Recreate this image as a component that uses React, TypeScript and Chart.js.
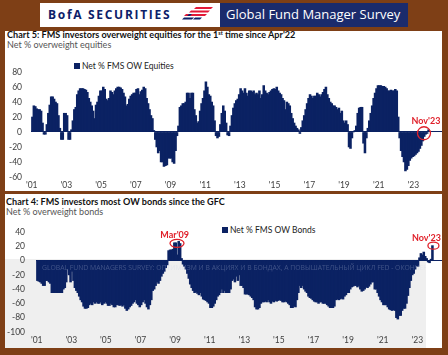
import React, { useEffect, useRef } from "react";
import { Chart, registerables } from "chart.js";

Chart.register(...registerables);

// ---------------- DATA ----------------
const FIRST_YEAR = 2001; // series start: Jan 2001, monthly, last value Nov 2023
const xTickYears = [2001, 2003, 2005, 2007, 2009, 2011, 2013, 2015, 2017, 2019, 2021, 2023];
const equitiesTicks = [-60, -40, -20, 0, 20, 40, 60, 80];
const bondsTicks = [-100, -80, -60, -40, -20, 0, 20, 40];

// Net % FMS OW Equities (monthly)
const equitiesNet = [
  20, 35, 34, 31, 30, 30, 28, 12, -3, -3, 10, 25, // 2001
  36, 47, 47, 44, 40, 38, 22, 5, -10, -10, 25, 25, // 2002
  22, -10, -10, 3, 15, 30, 33, 50, 55, 58, 58, 58, // 2003
  57, 56, 53, 45, 40, 35, 28, 18, 36, 40, 48, 55, // 2004
  55, 60, 57, 44, 42, 45, 55, 53, 50, 55, 58, 60, // 2005
  60, 59, 57, 52, 47, 35, 37, 44, 48, 50, 52, 52, // 2006
  57, 58, 50, 54, 56, 60, 58, 45, 38, 30, 22, 18, // 2007
  2, -10, -20, -28, -25, -40, -40, -46, -45, -44, -35, -35, // 2008
  -35, -40, -42, -25, -5, 8, 33, 35, 38, 38, 40, 52, // 2009
  52, 45, 52, 52, 30, 22, 12, 14, 28, 38, 45, 55, // 2010
  67, 60, 50, 48, 40, 35, 15, -5, -8, -6, 10, 25, // 2011
  35, 28, 12, -4, -5, 8, 22, 32, 38, 42, 44, 50, // 2012
  58, 55, 52, 58, 52, 48, 55, 55, 53, 55, 50, 52, // 2013
  50, 55, 45, 50, 62, 55, 52, 50, 53, 55, 57, 58, // 2014
  57, 60, 55, 52, 50, 45, 42, 30, 40, 38, 35, 25, // 2015
  18, 12, 8, 5, 3, -2, 6, 15, 22, 30, 38, 45, // 2016
  50, 48, 45, 48, 48, 52, 50, 47, 50, 53, 57, 60, // 2017
  50, 45, 40, 38, 35, 35, 33, 30, 32, 25, 28, 15, // 2018
  12, 15, 10, -20, -22, -8, 0, 2, 8, 25, 32, 33, // 2019
  33, -15, -28, -8, 5, 15, 25, 35, 45, 52, 58, 62, // 2020
  62, 62, 61, 61, 60, 58, 55, 55, 56, 55, 55, 57, // 2021
  55, 20, -8, -25, -33, -40, -52, -50, -45, -38, -35, -33, // 2022
  -32, -30, -28, -26, -22, -18, -12, -6, -3, -2, 3, // 2023 (Jan-Nov)
];

// Net % FMS OW Bonds (monthly)
const bondsNet = [
  -28, -29, -30, -32, -35, -35, -28, -28, -30, -32, -45, -45, // 2001
  -45, -45, -45, -45, -45, -45, -40, -38, -30, -12, -20, -30, // 2002
  -15, -28, -38, -42, -45, -50, -55, -58, -64, -67, -67, -66, // 2003
  -62, -60, -62, -58, -60, -58, -60, -60, -58, -62, -60, -58, // 2004
  -60, -63, -63, -60, -62, -65, -65, -62, -62, -63, -62, -64, // 2005
  -62, -67, -70, -68, -65, -63, -60, -58, -55, -60, -62, -65, // 2006
  -62, -58, -55, -60, -65, -68, -62, -55, -42, -40, -35, -30, // 2007
  -32, -28, -22, -18, -15, -10, -6, 14, 15, 15, 16, 25, // 2008
  25, 8, 27, 24, 3, -5, -8, -12, -18, -25, -33, -38, // 2009
  -42, -45, -44, -46, -48, -45, -50, -54, -55, -56, -58, -60, // 2010
  -66, -66, -64, -60, -55, -50, -48, -45, -40, -45, -42, -45, // 2011
  -45, -45, -40, -28, -26, -30, -22, -28, -20, -35, -35, -38, // 2012
  -47, -47, -47, -48, -50, -52, -55, -65, -68, -68, -66, -60, // 2013
  -58, -58, -57, -58, -55, -58, -60, -57, -58, -56, -57, -56, // 2014
  -55, -56, -58, -58, -57, -58, -60, -62, -66, -66, -64, -65, // 2015
  -55, -45, -35, -38, -35, -40, -43, -45, -50, -52, -53, -55, // 2016
  -57, -58, -58, -60, -58, -58, -60, -60, -60, -62, -64, -66, // 2017
  -66, -66, -64, -55, -54, -55, -54, -53, -54, -50, -48, -45, // 2018
  -45, -40, -37, -36, -35, -35, -37, -35, -40, -43, -42, -40, // 2019
  -37, -38, -36, -33, -30, -30, -40, -40, -45, -50, -55, -58, // 2020
  -62, -62, -62, -65, -68, -69, -70, -69, -70, -80, -82, -77, // 2021
  -77, -70, -67, -67, -60, -49, -38, -28, -20, -18, -12, -7, // 2022
  -8, 4, 10, 8, 12, 6, 3, -2, -3, 2, 21, // 2023 (Jan-Nov)
];

// ---------------- STYLE ----------------
const NAVY = "#0b2263";
const RED = "#e0202a";
const BROWN = "#7e3f16";
const TICK = "#404040";
const FONT = "Lato";

const monthX = (i: number) => FIRST_YEAR + (i + 0.5) / 12;

type Callout = { index: number; label: string; dx: number; dy: number; rx: number; ry: number; tx: number; ty: number };

function makeCallout(items: Callout[]) {
  return {
    id: "callout",
    afterDatasetsDraw(chart: any) {
      const { ctx } = chart;
      const meta = chart.getDatasetMeta(0);
      ctx.save();
      for (const it of items) {
        const el = meta.data[it.index];
        if (!el) continue;
        ctx.strokeStyle = RED;
        ctx.lineWidth = 1.3;
        ctx.beginPath();
        ctx.ellipse(el.x + it.dx, el.y + it.dy, it.rx, it.ry, 0, 0, Math.PI * 2);
        ctx.stroke();
        ctx.fillStyle = RED;
        ctx.font = `bold 9px ${FONT}`;
        ctx.textAlign = "center";
        ctx.textBaseline = "middle";
        ctx.fillText(it.label, el.x + it.tx, el.y + it.ty);
      }
      ctx.restore();
    },
  };
}

function buildConfig(values: number[], yTicks: number[], xMin: number, xMax: number, yWidth: number, yPad: number, padTop: number, callouts: Callout[]): any {
  return {
    type: "bar",
    data: {
      datasets: [
        {
          data: values.map((v, i) => ({ x: monthX(i), y: v })),
          backgroundColor: NAVY,
          borderWidth: 0,
          barThickness: 1.9,
        },
      ],
    },
    options: {
      responsive: false,
      animation: false,
      events: [],
      layout: { padding: { top: padTop, right: 6, left: 0, bottom: 0 } },
      plugins: { legend: { display: false }, tooltip: { enabled: false }, title: { display: false } },
      scales: {
        x: {
          type: "linear",
          min: xMin,
          max: xMax,
          offset: false,
          grid: { display: false, drawTicks: false },
          border: { display: false },
          afterBuildTicks: (s: any) => {
            s.ticks = xTickYears.map((v) => ({ value: v }));
          },
          afterFit: (s: any) => {
            s.height = 12;
          },
          ticks: {
            autoSkip: false,
            maxRotation: 0,
            padding: 3,
            color: TICK,
            font: { family: FONT, size: 8.5 },
            callback: (v: any) => "'" + String(v).slice(2),
          },
        },
        y: {
          min: yTicks[0],
          max: yTicks[yTicks.length - 1],
          grid: {
            drawTicks: false,
            lineWidth: 1,
            color: (c: any) => (c.tick && c.tick.value === 0 ? NAVY : "rgba(0,0,0,0)"),
          },
          border: { display: false },
          afterBuildTicks: (s: any) => {
            s.ticks = yTicks.map((v) => ({ value: v }));
          },
          afterFit: (s: any) => {
            s.width = yWidth;
          },
          ticks: {
            padding: yPad,
            color: TICK,
            font: { family: FONT, size: 8.5 },
          },
        },
      },
    },
    plugins: [makeCallout(callouts)],
  };
}

const abs = (o: any): any => ({ position: "absolute", ...o });

export default function App() {
  const topRef = useRef<HTMLCanvasElement>(null);
  const botRef = useRef<HTMLCanvasElement>(null);

  useEffect(() => {
    const c1 = new Chart(
      topRef.current!,
      buildConfig(equitiesNet, equitiesTicks, 2000.96, 2024.649, 31, 9, 6, [
        { index: equitiesNet.length - 1, label: "Nov'23", dx: -4.6, dy: 3.5, rx: 6.5, ry: 6.5, tx: -2.6, ty: -8.5 },
      ])
    );
    const c2 = new Chart(
      botRef.current!,
      buildConfig(bondsNet, bondsTicks, 2000.96, 2024.428, 36, 11, 11, [
        { index: 98, label: "Mar'09", dx: -1.7, dy: 2, rx: 7, ry: 4, tx: -4, ty: -6 },
        { index: bondsNet.length - 1, label: "Nov'23", dx: 1, dy: 0, rx: 5.5, ry: 3.5, tx: -6, ty: -8 },
      ])
    );
    return () => {
      c1.destroy();
      c2.destroy();
    };
  }, []);

  return (
    <div style={abs({ position: "fixed", left: 0, top: 0, width: 448, height: 355, background: BROWN, overflow: "hidden", fontFamily: FONT })}>
      {/* banner */}
      <div style={abs({ left: 40, top: 3, width: 180, height: 24, background: "#fff" })}>
        <div style={abs({ left: 8, top: 4, fontFamily: "Open Sans", fontWeight: 700, fontSize: 12, letterSpacing: 1.7, color: "#0c2169", lineHeight: "16px", whiteSpace: "nowrap" })}>
          BofA SECURITIES
        </div>
        <svg style={abs({ left: 142, top: 4, width: 32, height: 15 })} viewBox="0 0 32 15">
          <polygon points="14,0 31,0 29,2 12,2" fill="#e31837" />
          <polygon points="9,3.5 28,3.5 26,5.5 7,5.5" fill="#e31837" />
          <polygon points="4,7 25,7 23,9 2,9" fill="#e31837" />
          <polygon points="2,10.5 12,10.5 10,12.5 0,12.5" fill="#0c2169" />
          <polygon points="7,7 10,7 8,9 5,9" fill="#0c2169" />
          <polygon points="13,10.5 20,10.5 18,12.5 11,12.5" fill="#0c2169" />
        </svg>
      </div>
      <div style={abs({ left: 220, top: 3, width: 188, height: 24, background: "#1b2b6c" })}>
        <div style={abs({ left: 6, top: 3, fontFamily: "Open Sans", fontSize: 13, color: "#fff", lineHeight: "17px", whiteSpace: "nowrap" })}>
          Global Fund Manager Survey
        </div>
      </div>

      {/* panels */}
      <div style={abs({ left: 5, top: 31, width: 437, height: 160, background: "#fff" })} />
      <div style={abs({ left: 5, top: 194, width: 437, height: 154, background: "#fff" })} />
      <div style={abs({ left: 5, top: 259, width: 421, height: 89, background: "#efefef" })} />

      {/* titles */}
      <div style={abs({ left: 7, top: 30, fontSize: 9.1, fontWeight: 700, color: "#111", lineHeight: "10px", whiteSpace: "nowrap" })}>
        Chart 5: FMS investors overweight equities for the 1<span style={{ fontSize: 5.5, position: "relative", top: -3 }}>st</span> time since Apr'22
      </div>
      <div style={abs({ left: 7, top: 40, fontSize: 9, color: "#555", lineHeight: "10px", whiteSpace: "nowrap" })}>Net % overweight equities</div>
      <div style={abs({ left: 6, top: 197, fontSize: 9.1, fontWeight: 700, color: "#111", lineHeight: "10px", whiteSpace: "nowrap" })}>
        Chart 4: FMS investors most OW bonds since the GFC
      </div>
      <div style={abs({ left: 6, top: 207, fontSize: 9, color: "#555", lineHeight: "10px", whiteSpace: "nowrap" })}>Net % overweight bonds</div>

      {/* legends */}
      <div style={abs({ left: 74, top: 63, width: 6, height: 6, background: NAVY })} />
      <div style={abs({ left: 82, top: 61, fontSize: 8.5, color: "#222", lineHeight: "10px", whiteSpace: "nowrap" })}>Net % FMS OW Equities</div>
      <div style={abs({ left: 222, top: 226.5, width: 6, height: 6, background: NAVY })} />
      <div style={abs({ left: 230, top: 224.5, fontSize: 8.5, color: "#222", lineHeight: "10px", whiteSpace: "nowrap" })}>Net % FMS OW Bonds</div>

      {/* charts */}
      <canvas ref={topRef} width={448} height={133} style={abs({ left: 0, top: 58, width: 448, height: 133 })} />
      <canvas ref={botRef} width={448} height={132} style={abs({ left: 0, top: 216, width: 448, height: 132 })} />

      {/* watermark text */}
      <div style={abs({ left: 5, top: 263, width: 421, height: 12, overflow: "hidden" })}>
        <div style={abs({ left: 37, top: 0, fontFamily: "Open Sans", fontSize: 6.8, color: "rgba(200,208,230,0.28)", lineHeight: "10px", whiteSpace: "nowrap" })}>
          GLOBAL FUND MANAGERS SURVEY: ОПТИМИЗМ И В АКЦИЯХ И В БОНДАХ, А ПОВЫШАТЕЛЬНЫЙ ЦИКЛ FED - ОКОНЧЕН
        </div>
      </div>
    </div>
  );
}
